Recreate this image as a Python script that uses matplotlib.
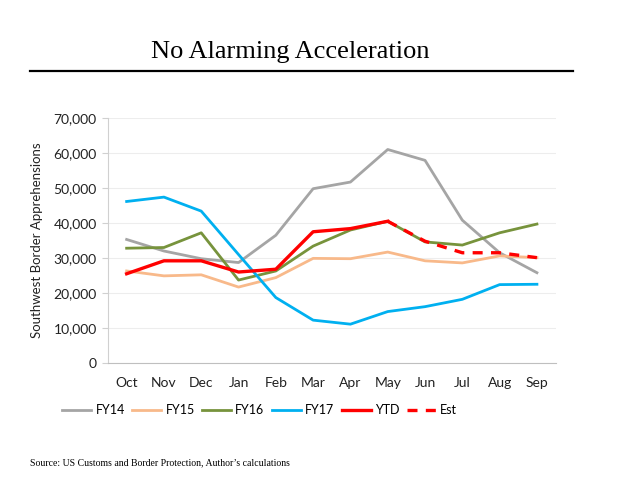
import numpy as np
import matplotlib.pyplot as plt
from matplotlib.ticker import FuncFormatter

plt.rcParams['font.family'] = ['Lato', 'DejaVu Sans']

months = ['Oct', 'Nov', 'Dec', 'Jan', 'Feb', 'Mar', 'Apr', 'May', 'Jun', 'Jul', 'Aug', 'Sep']
fy14 = [35300, 32000, 29800, 28700, 36500, 49800, 51700, 61000, 57900, 40800, 31500, 25800]
fy15 = [26300, 24900, 25200, 21700, 24400, 29900, 29800, 31700, 29200, 28600, 30600, 30100]
fy16 = [32800, 33000, 37200, 23700, 26300, 33400, 38000, 40500, 34600, 33700, 37200, 39700]
fy17 = [46150, 47400, 43400, 31000, 18700, 12250, 11100, 14700, 16100, 18200, 22400, 22500]
ytd = [25500, 29200, 29200, 26000, 26800, 37500, 38400, 40500]
est = [40500, 34800, 31500, 31500, 30100]

fig = plt.figure(figsize=(6.26, 4.83), dpi=100)
ax = fig.add_axes([0.1725, 0.2484, 0.715, 0.5073])

x = np.arange(len(months))
lw = 2.0
ax.plot(x, fy14, color='#A5A5A5', lw=lw, label='FY14')
ax.plot(x, fy15, color='#F8B98A', lw=lw, label='FY15')
ax.plot(x, fy16, color='#77933C', lw=lw, label='FY16')
ax.plot(x, fy17, color='#00B0F0', lw=lw, label='FY17')
ax.plot(x[:len(ytd)], ytd, color='#FF0000', lw=2.4, label='YTD')
ax.plot(x[len(ytd) - 1:], est, color='#FF0000', lw=2.4, ls=(0, (3, 2.5)), label='Est')

ax.set_xlim(-0.5, len(months) - 0.5)
ax.set_ylim(0, 70000)
ax.set_xticks(x)
ax.set_xticklabels(months)
ax.set_yticks(range(0, 70001, 10000))
ax.yaxis.set_major_formatter(FuncFormatter(lambda v, p: f'{int(v):,}'))
ax.grid(axis='y', color='#EDEDED', lw=0.8)
ax.set_axisbelow(True)
for s in ['top', 'right']:
    ax.spines[s].set_visible(False)
ax.spines['left'].set_color('#D0D0D0')
ax.spines['bottom'].set_color('#BFBFBF')
ax.tick_params(axis='x', length=0, pad=10, labelsize=10, colors='#222222')
ax.tick_params(axis='y', length=4, color='#D0D0D0', pad=4, labelsize=10, labelcolor='#222222')
ax.set_ylabel('Southwest Border Apprehensions', fontsize=9.5, color='#222222', labelpad=8)

fig.legend(loc='center', bbox_to_anchor=(0.415, 0.151), ncol=6, frameon=False,
           fontsize=9, handlelength=2.3, columnspacing=0.6, handletextpad=0.35)

fig.text(0.463, 0.893, 'No Alarming Acceleration', ha='center', va='center',
         family='Liberation Serif', fontsize=19)
fig.add_artist(plt.Line2D([30 / 626, 573 / 626], [1 - 71 / 483, 1 - 71 / 483],
                          color='black', lw=1.6, transform=fig.transFigure))
fig.text(30 / 626, 1 - 463 / 483, 'Source: US Customs and Border Protection, Author\u2019s calculations',
         ha='left', va='center', family='Liberation Serif', fontsize=7)

fig.savefig('out.png', dpi=100)
